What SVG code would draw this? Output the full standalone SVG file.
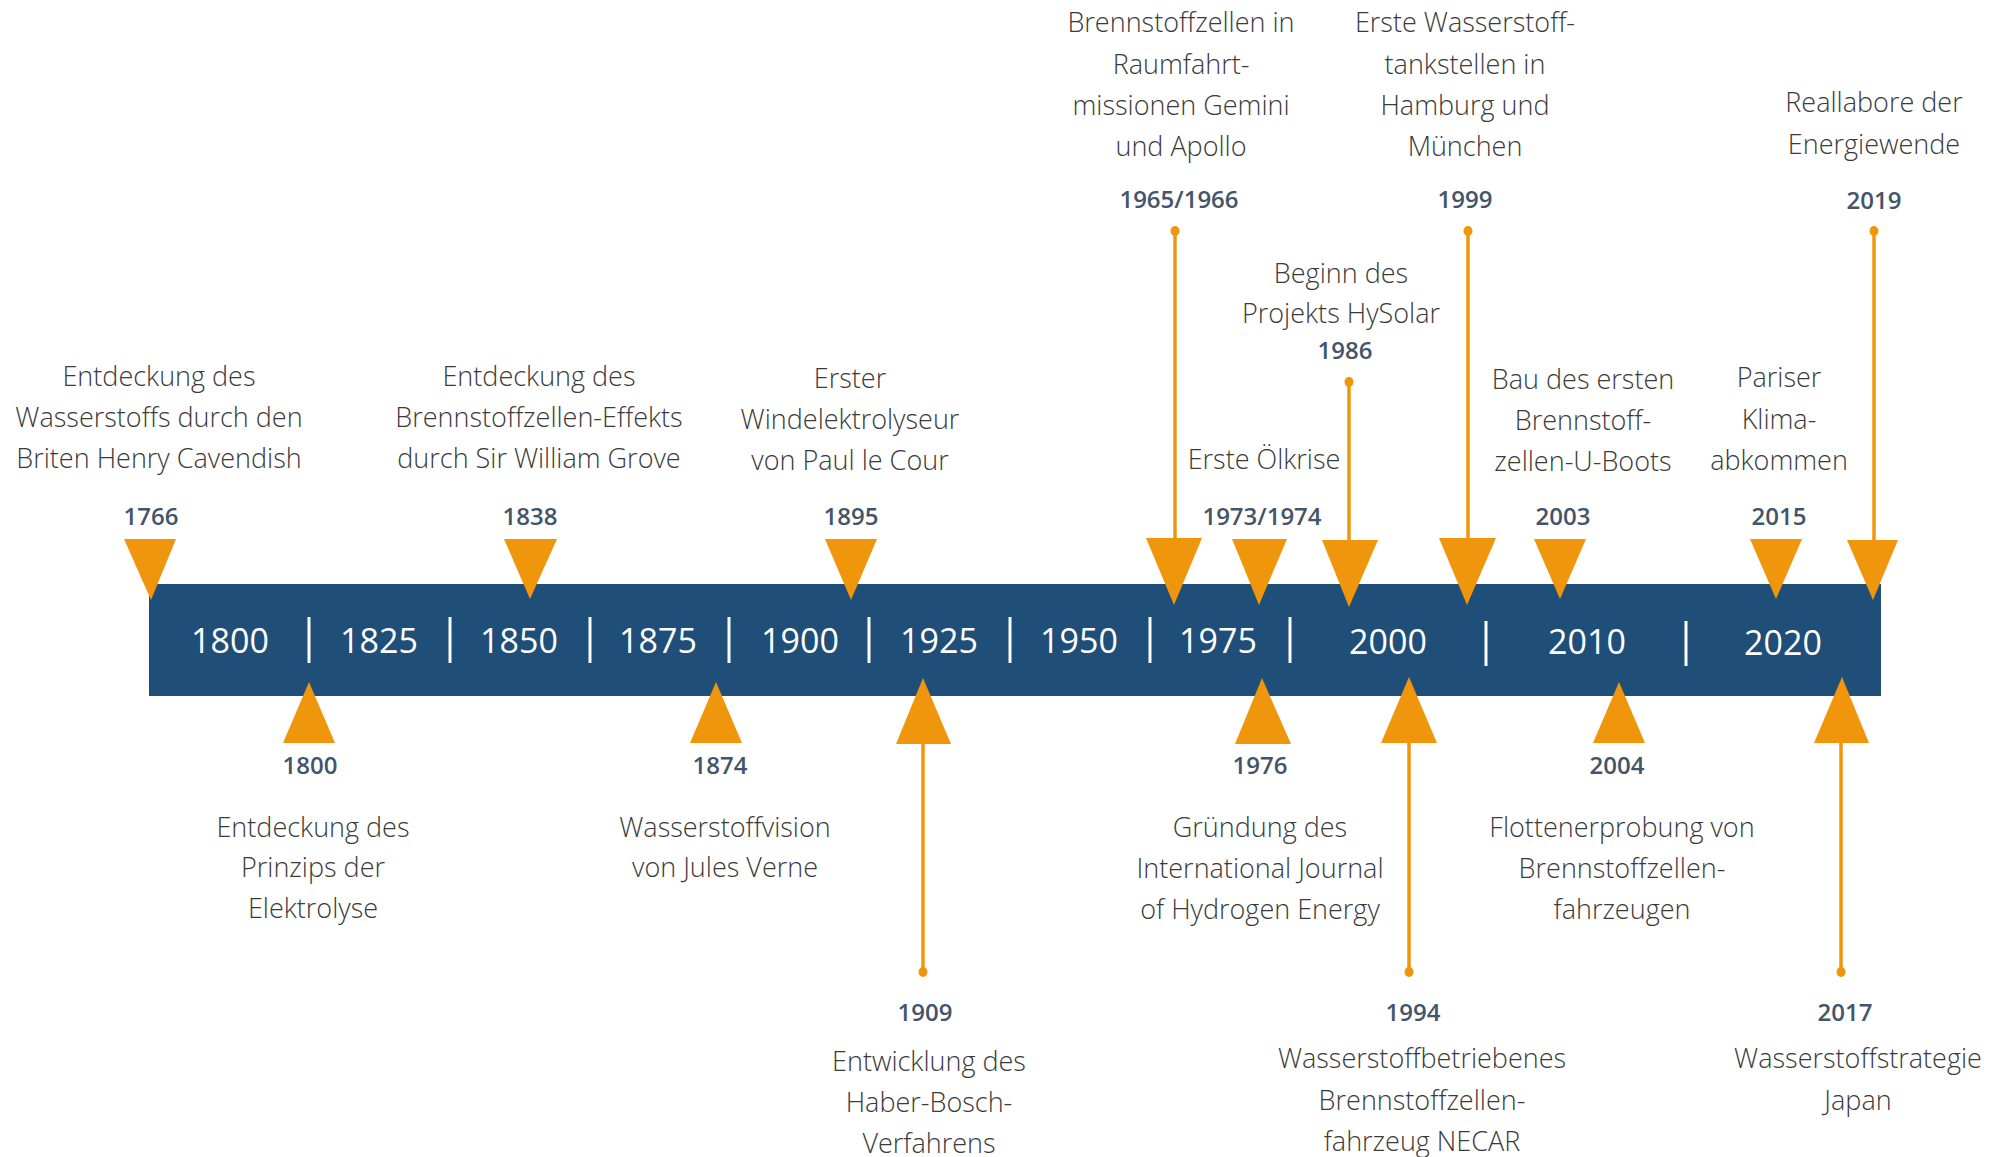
<svg xmlns="http://www.w3.org/2000/svg" width="2004" height="1157" viewBox="0 0 2004 1157">
<style>
.d{font-family:"Open Sans","Noto Sans","DejaVu Sans",sans-serif;font-weight:300;font-size:27px;fill:#3a3a3a;text-anchor:middle}
.y{font-family:"Open Sans","Noto Sans","DejaVu Sans",sans-serif;font-weight:600;font-size:24px;fill:#44546A;text-anchor:middle}
.b{font-family:"Open Sans","Noto Sans","DejaVu Sans",sans-serif;font-weight:400;font-size:34px;fill:#ffffff;text-anchor:middle}
.t{fill:#F0960C}
.c{stroke:#F0960C;stroke-width:3.5;fill:none}
.k{stroke:#ffffff;stroke-width:3}
.e{fill:#F0960C}
</style>
<rect width="2004" height="1157" fill="#ffffff"/>
<g id="timeline-bar">
<rect x="149" y="584" width="1732" height="112" fill="#1F4E79"/>
<g class="k">
<line x1="309" y1="617" x2="309" y2="663"/>
<line x1="450" y1="617" x2="450" y2="663"/>
<line x1="590" y1="617" x2="590" y2="663"/>
<line x1="729" y1="617" x2="729" y2="663"/>
<line x1="869" y1="617" x2="869" y2="663"/>
<line x1="1010" y1="617" x2="1010" y2="663"/>
<line x1="1150" y1="617" x2="1150" y2="663"/>
<line x1="1290" y1="617" x2="1290" y2="663"/>
<line x1="1486" y1="621" x2="1486" y2="666"/>
<line x1="1686" y1="621" x2="1686" y2="666"/>
</g>
<text class="b" x="230" y="653">1800</text>
<text class="b" x="379" y="653">1825</text>
<text class="b" x="519" y="653">1850</text>
<text class="b" x="658" y="653">1875</text>
<text class="b" x="800" y="653">1900</text>
<text class="b" x="939" y="653">1925</text>
<text class="b" x="1079" y="653">1950</text>
<text class="b" x="1218" y="653">1975</text>
<text class="b" x="1388" y="654">2000</text>
<text class="b" x="1587" y="654">2010</text>
<text class="b" x="1783" y="655">2020</text>
</g>
<g id="connectors">
<line class="c" x1="1175" y1="231" x2="1175" y2="545"/>
<line class="c" x1="1349" y1="382" x2="1349" y2="545"/>
<line class="c" x1="1468" y1="231" x2="1468" y2="545"/>
<line class="c" x1="1874" y1="231" x2="1874" y2="545"/>
<line class="c" x1="923" y1="735" x2="923" y2="972"/>
<line class="c" x1="1409" y1="735" x2="1409" y2="972"/>
<line class="c" x1="1841" y1="735" x2="1841" y2="972"/>
<ellipse class="e" cx="1175" cy="231" rx="4.5" ry="5"/>
<ellipse class="e" cx="1349" cy="382" rx="4.5" ry="5"/>
<ellipse class="e" cx="1468" cy="231" rx="4.5" ry="5"/>
<ellipse class="e" cx="1874" cy="231" rx="4.5" ry="5"/>
<ellipse class="e" cx="923" cy="972" rx="4.5" ry="5"/>
<ellipse class="e" cx="1409" cy="972" rx="4.5" ry="5"/>
<ellipse class="e" cx="1841" cy="972" rx="4.5" ry="5"/>
</g>
<g id="e1766">
<polygon class="t" points="124,539 176,539 151,600"/>
<text class="y" x="151" y="525">1766</text>
<text class="d" x="159" y="386">Entdeckung des</text>
<text class="d" x="159" y="427">Wasserstoffs durch den</text>
<text class="d" x="159" y="468">Briten Henry Cavendish</text>
</g>
<g id="e1800">
<polygon class="t" points="309,682 335,743 283,743"/>
<text class="y" x="310" y="774">1800</text>
<text class="d" x="313" y="837">Entdeckung des</text>
<text class="d" x="313" y="877">Prinzips der</text>
<text class="d" x="313" y="918">Elektrolyse</text>
</g>
<g id="e1838">
<polygon class="t" points="504,539 557,539 530,599"/>
<text class="y" x="530" y="525">1838</text>
<text class="d" x="539" y="386">Entdeckung des</text>
<text class="d" x="539" y="427">Brennstoffzellen-Effekts</text>
<text class="d" x="539" y="468">durch Sir William Grove</text>
</g>
<g id="e1874">
<polygon class="t" points="716,682 742,743 690,743"/>
<text class="y" x="720" y="774">1874</text>
<text class="d" x="725" y="837">Wasserstoffvision</text>
<text class="d" x="725" y="877">von Jules Verne</text>
</g>
<g id="e1895">
<polygon class="t" points="825,539 877,539 851,600"/>
<text class="y" x="851" y="525">1895</text>
<text class="d" x="850" y="388">Erster</text>
<text class="d" x="850" y="429">Windelektrolyseur</text>
<text class="d" x="850" y="470">von Paul le Cour</text>
</g>
<g id="e1909">
<polygon class="t" points="923,678 951,744 896,744"/>
<text class="y" x="925" y="1021">1909</text>
<text class="d" x="929" y="1071">Entwicklung des</text>
<text class="d" x="929" y="1112">Haber-Bosch-</text>
<text class="d" x="929" y="1153">Verfahrens</text>
</g>
<g id="e1965">
<polygon class="t" points="1146,538 1202,538 1174,605"/>
<text class="y" x="1179" y="208">1965/1966</text>
<text class="d" x="1181" y="32">Brennstoffzellen in</text>
<text class="d" x="1181" y="74">Raumfahrt-</text>
<text class="d" x="1181" y="115">missionen Gemini</text>
<text class="d" x="1181" y="156">und Apollo</text>
</g>
<g id="e1973">
<polygon class="t" points="1232,539 1287,539 1259,605"/>
<text class="y" x="1262" y="525">1973/1974</text>
<text class="d" x="1264" y="469">Erste Ölkrise</text>
</g>
<g id="e1976">
<polygon class="t" points="1262,678 1291,744 1235,744"/>
<text class="y" x="1260" y="774">1976</text>
<text class="d" x="1260" y="837">Gründung des</text>
<text class="d" x="1260" y="878">International Journal</text>
<text class="d" x="1260" y="919">of Hydrogen Energy</text>
</g>
<g id="e1986">
<polygon class="t" points="1322,540 1378,540 1349,607"/>
<text class="y" x="1345" y="359">1986</text>
<text class="d" x="1341" y="283">Beginn des</text>
<text class="d" x="1341" y="323">Projekts HySolar</text>
</g>
<g id="e1994">
<polygon class="t" points="1409,677 1437,743 1381,743"/>
<text class="y" x="1413" y="1021">1994</text>
<text class="d" x="1422" y="1068">Wasserstoffbetriebenes</text>
<text class="d" x="1422" y="1110">Brennstoffzellen-</text>
<text class="d" x="1422" y="1151">fahrzeug NECAR</text>
</g>
<g id="e1999">
<polygon class="t" points="1439,538 1496,538 1467,605"/>
<text class="y" x="1465" y="208">1999</text>
<text class="d" x="1465" y="32">Erste Wasserstoff-</text>
<text class="d" x="1465" y="74">tankstellen in</text>
<text class="d" x="1465" y="115">Hamburg und</text>
<text class="d" x="1465" y="156">München</text>
</g>
<g id="e2003">
<polygon class="t" points="1534,539 1586,539 1560,599"/>
<text class="y" x="1563" y="525">2003</text>
<text class="d" x="1583" y="389">Bau des ersten</text>
<text class="d" x="1583" y="430">Brennstoff-</text>
<text class="d" x="1583" y="471">zellen-U-Boots</text>
</g>
<g id="e2004">
<polygon class="t" points="1619,682 1645,743 1593,743"/>
<text class="y" x="1617" y="774">2004</text>
<text class="d" x="1622" y="837">Flottenerprobung von</text>
<text class="d" x="1622" y="878">Brennstoffzellen-</text>
<text class="d" x="1622" y="919">fahrzeugen</text>
</g>
<g id="e2015">
<polygon class="t" points="1750,539 1802,539 1776,599"/>
<text class="y" x="1779" y="525">2015</text>
<text class="d" x="1779" y="387">Pariser</text>
<text class="d" x="1779" y="429">Klima-</text>
<text class="d" x="1779" y="470">abkommen</text>
</g>
<g id="e2017">
<polygon class="t" points="1842,677 1869,743 1814,743"/>
<text class="y" x="1845" y="1021">2017</text>
<text class="d" x="1858" y="1068">Wasserstoffstrategie</text>
<text class="d" x="1858" y="1110">Japan</text>
</g>
<g id="e2019">
<polygon class="t" points="1847,540 1898,540 1873,600"/>
<text class="y" x="1874" y="209">2019</text>
<text class="d" x="1874" y="112">Reallabore der</text>
<text class="d" x="1874" y="154">Energiewende</text>
</g>
</svg>
